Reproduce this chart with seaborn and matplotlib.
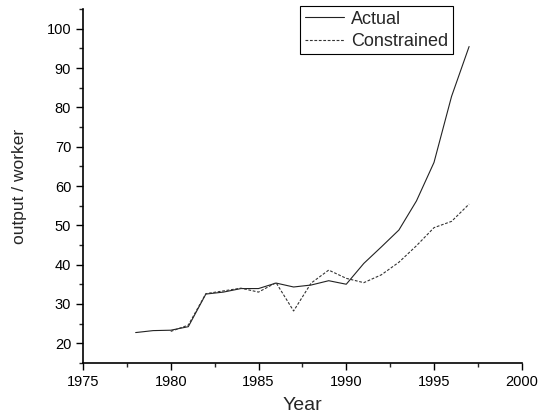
import pandas as pd
import matplotlib.pyplot as plt
import seaborn as sns
from matplotlib.ticker import MultipleLocator

# values
actual_years = list(range(1978, 1998))
actual_vals = [22.7, 23.2, 23.3, 24.2, 32.5, 33.0, 33.9, 33.9, 35.3, 34.3,
               34.8, 35.9, 35.0, 40.3, 44.5, 48.8, 56.2, 66.0, 82.8, 95.5]

constr_years = list(range(1980, 1998))
constr_vals = [23.0, 24.6, 32.6, 33.3, 34.0, 33.0, 35.4, 28.2, 35.3, 38.6,
               36.5, 35.4, 37.4, 40.6, 44.8, 49.4, 51.0, 55.4]

sns.set_style("ticks")
plt.rcParams["font.family"] = ["Liberation Sans", "DejaVu Sans"]


def main():
    act = pd.DataFrame({"year": actual_years, "value": actual_vals})
    con = pd.DataFrame({"year": constr_years, "value": constr_vals})

    fig = plt.figure(figsize=(5.39, 4.18), dpi=100)
    ax = fig.add_axes([0.154, 0.132, 0.814, 0.846])

    sns.lineplot(data=act, x="year", y="value", ax=ax, color="#222222",
                 linewidth=0.8, label="Actual")
    sns.lineplot(data=con, x="year", y="value", ax=ax, color="#333333",
                 linewidth=0.8, linestyle=(0, (2.5, 1.5)), label="Constrained")

    ax.set_xlim(1975, 2000)
    ax.set_ylim(15, 105)
    ax.xaxis.set_major_locator(MultipleLocator(5))
    ax.xaxis.set_minor_locator(MultipleLocator(2.5))
    ax.yaxis.set_major_locator(MultipleLocator(10))
    ax.yaxis.set_minor_locator(MultipleLocator(5))
    ax.set_yticks(range(20, 101, 10))
    ax.tick_params(which="major", direction="out", length=5, width=1,
                   labelsize=10.5, colors="black")
    ax.tick_params(which="minor", direction="out", length=3, width=1)
    sns.despine(ax=ax)
    for s in ("left", "bottom"):
        ax.spines[s].set_linewidth(1.2)
        ax.spines[s].set_color("black")

    ax.set_xlabel("Year", fontsize=14, labelpad=6)
    ax.set_ylabel("output / worker", fontsize=12.5, labelpad=14)

    leg = ax.legend(loc="upper left", bbox_to_anchor=(300 / 539, 1 - 6 / 418),
                    bbox_transform=fig.transFigure, fontsize=13,
                    fancybox=False, framealpha=1, edgecolor="black",
                    handlelength=2.2, borderpad=0.25, labelspacing=0.3,
                    handletextpad=0.4, borderaxespad=0)
    leg.get_frame().set_linewidth(0.8)

    fig.savefig("out.png", dpi=100)
    plt.close(fig)


if __name__ == "__main__":
    main()
